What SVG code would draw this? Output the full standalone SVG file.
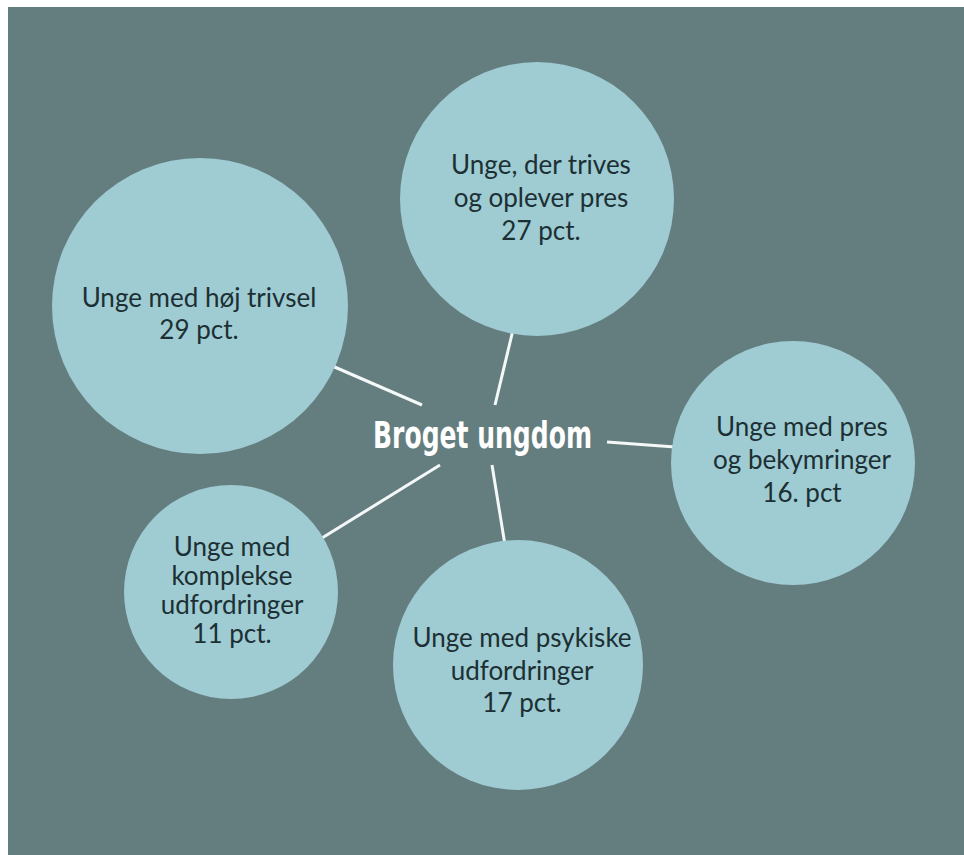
<svg xmlns="http://www.w3.org/2000/svg" width="964" height="855" viewBox="0 0 964 855">
<style>
.node circle{fill:#9fcbd3}
.node text{font-family:Lato,"Noto Sans","Liberation Sans",sans-serif;font-size:26px;fill:#1c3034;text-anchor:middle}
.conn line{stroke:#f4f8f8;stroke-width:3;stroke-linecap:butt}
.title{font-family:"Liberation Sans Narrow","DejaVu Sans Condensed","Liberation Sans",sans-serif;font-weight:bold;font-size:38px;fill:#ffffff}
</style>
<rect x="0" y="0" width="964" height="855" fill="#ffffff"/>
<rect x="8" y="7" width="956" height="848" fill="#647d7e"/>
<g id="connectors" class="conn">
<line x1="330" y1="365" x2="422" y2="405"/>
<line x1="513" y1="330" x2="495" y2="405"/>
<line x1="607" y1="442" x2="675" y2="447"/>
<line x1="440" y1="465" x2="322" y2="538"/>
<line x1="492" y1="465" x2="505" y2="545"/>
</g>
<g id="node-hoej-trivsel" class="node">
<circle cx="200" cy="306" r="148"/>
<text x="199" y="307">Unge med høj trivsel</text>
<text x="199" y="339">29 pct.</text>
</g>
<g id="node-trives-pres" class="node">
<circle cx="537" cy="199" r="137"/>
<text x="541" y="174">Unge, der trives</text>
<text x="541" y="207">og oplever pres</text>
<text x="541" y="240">27 pct.</text>
</g>
<g id="node-pres-bekymringer" class="node">
<circle cx="793" cy="463" r="122"/>
<text x="802" y="436">Unge med pres</text>
<text x="802" y="469">og bekymringer</text>
<text x="802" y="502">16. pct</text>
</g>
<g id="node-komplekse" class="node">
<circle cx="231" cy="592" r="107"/>
<text x="232" y="556">Unge med</text>
<text x="232" y="585">komplekse</text>
<text x="232" y="614">udfordringer</text>
<text x="232" y="643">11 pct.</text>
</g>
<g id="node-psykiske" class="node">
<circle cx="518" cy="665" r="125"/>
<text x="522" y="647">Unge med psykiske</text>
<text x="522" y="680">udfordringer</text>
<text x="522" y="712">17 pct.</text>
</g>
<g id="node-center">
<text class="title" x="373" y="448" textLength="219" lengthAdjust="spacingAndGlyphs">Broget ungdom</text>
</g>
</svg>
